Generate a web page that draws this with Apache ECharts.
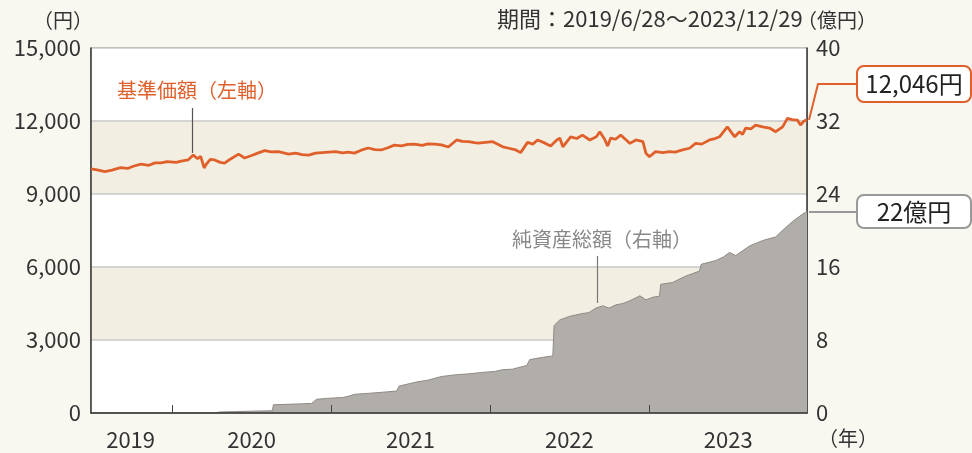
<!DOCTYPE html>
<html><head><meta charset="utf-8">
<script src="https://cdn.jsdelivr.net/npm/echarts@6/dist/echarts.min.js"></script>
<style>html,body{margin:0;padding:0;background:#f8f7f0;}#c{width:972px;height:453px;}</style>
</head><body><div id="c"></div>
<script>
const FONT = "'Noto Sans CJK JP','Noto Sans',sans-serif";
const startDate = '2019-06-28';
const endDate = '2023-12-29';
const yearTicks = ['2020-01-01','2021-01-01','2022-01-01','2023-01-01'];
const yearLabelPos = ['2019-09-27','2020-07-01','2021-07-01','2022-07-01','2023-07-01'];
const leftTicks = [0,3000,6000,9000,12000,15000];
const rightTicks = [0,8,16,24,32,40];

const navDates = ['2019-06-28','2019-07-12','2019-07-30','2019-08-15','2019-09-04','2019-09-20','2019-10-05','2019-10-21','2019-11-08','2019-11-22','2019-12-06','2019-12-20','2020-01-10','2020-01-21','2020-02-06','2020-02-18','2020-02-28','2020-03-06','2020-03-14','2020-03-20','2020-03-28','2020-04-07','2020-04-20','2020-04-30','2020-05-12','2020-06-01','2020-06-15','2020-07-01','2020-07-15','2020-07-31','2020-08-15','2020-09-01','2020-09-24','2020-10-10','2020-10-25','2020-11-09','2020-11-25','2020-12-10','2020-12-25','2021-01-10','2021-01-26','2021-02-08','2021-02-22','2021-03-10','2021-03-26','2021-04-10','2021-04-25','2021-05-10','2021-05-25','2021-06-10','2021-06-25','2021-07-10','2021-07-28','2021-08-10','2021-08-25','2021-09-10','2021-09-26','2021-10-15','2021-10-28','2021-11-11','2021-11-25','2021-12-04','2021-12-20','2022-01-06','2022-01-29','2022-02-12','2022-02-28','2022-03-11','2022-03-27','2022-04-08','2022-04-19','2022-05-05','2022-05-19','2022-06-01','2022-06-09','2022-06-16','2022-07-04','2022-07-18','2022-07-31','2022-08-17','2022-09-01','2022-09-09','2022-09-20','2022-09-27','2022-10-04','2022-10-15','2022-10-27','2022-11-10','2022-11-17','2022-12-01','2022-12-17','2022-12-24','2023-01-01','2023-01-15','2023-02-01','2023-02-16','2023-03-01','2023-03-18','2023-04-03','2023-04-17','2023-05-01','2023-05-19','2023-06-01','2023-06-11','2023-06-29','2023-07-16','2023-07-27','2023-08-03','2023-08-10','2023-08-22','2023-09-02','2023-09-18','2023-10-04','2023-10-18','2023-11-03','2023-11-14','2023-11-25','2023-12-07','2023-12-14','2023-12-22','2023-12-29'];
const navValues = [10030,9990,9920,9980,10080,10050,10150,10230,10180,10280,10280,10330,10300,10350,10400,10600,10450,10550,10070,10250,10420,10400,10300,10270,10420,10640,10480,10580,10680,10780,10730,10740,10640,10680,10620,10600,10680,10700,10720,10740,10690,10720,10680,10800,10890,10820,10810,10900,11010,10980,11040,11050,11000,11060,11050,11020,10930,11220,11160,11150,11110,11090,11120,11150,10940,10880,10810,10700,11120,11050,11220,11100,10970,11200,11300,10940,11350,11280,11420,11220,11350,11560,11250,10970,11300,11250,11420,11200,11080,11220,11150,10670,10530,10740,10700,10740,10720,10810,10880,11080,11050,11220,11280,11350,11760,11350,11560,11450,11710,11680,11830,11760,11710,11560,11760,12110,12060,12040,11830,12000,12046];

const aumDates = ['2019-06-28','2020-04-10','2020-04-16','2020-05-20','2020-07-01','2020-08-18','2020-08-20','2020-09-20','2020-10-20','2020-11-16','2020-11-27','2020-12-20','2021-01-26','2021-02-10','2021-02-22','2021-03-25','2021-05-04','2021-05-30','2021-06-05','2021-07-15','2021-08-10','2021-09-10','2021-10-15','2021-11-15','2021-12-13','2022-01-10','2022-01-29','2022-02-20','2022-03-16','2022-03-25','2022-04-01','2022-05-01','2022-05-24','2022-05-27','2022-06-09','2022-07-02','2022-07-31','2022-08-15','2022-08-31','2022-09-16','2022-09-30','2022-10-16','2022-11-01','2022-11-17','2022-12-10','2022-12-24','2023-01-10','2023-01-24','2023-01-27','2023-02-23','2023-03-25','2023-04-26','2023-04-30','2023-06-02','2023-06-20','2023-07-04','2023-07-18','2023-08-19','2023-09-18','2023-10-18','2023-11-07','2023-11-26','2023-12-19','2023-12-29'];
const aumValues = [0,0,0.1,0.15,0.2,0.25,0.9,0.95,1.0,1.05,1.5,1.6,1.7,1.85,2.05,2.15,2.3,2.4,2.95,3.4,3.6,4.0,4.2,4.3,4.45,4.55,4.75,4.8,5.1,5.2,5.85,6.1,6.25,9.6,10.2,10.6,10.9,11.0,11.5,11.75,11.5,11.85,12.0,12.3,12.85,12.4,12.7,12.8,14.1,14.3,15.0,15.55,16.3,16.7,17.1,17.6,17.25,18.3,18.9,19.3,20.2,21.0,21.8,22.1];

const navLabel = '12,046円';
const aumLabel = '22億円';

const ts = d => new Date(d + 'T00:00:00Z').getTime();
const chart = echarts.init(document.getElementById('c'));
const txt = '#333';
chart.setOption({
  backgroundColor: '#f8f7f0',
  animation: false,
  textStyle: {fontFamily: FONT},
  grid: {left: 91, right: 165, top: 48, bottom: 40, show: true, backgroundColor: '#ffffff', borderColor: '#666', borderWidth: 1},
  xAxis: {
    type: 'value', min: ts(startDate), max: ts(endDate), scale: true, z: 10,
    axisLine: {show: true, onZero: false, lineStyle: {color: '#333', width: 1.5}},
    axisTick: {show: true, inside: true, length: 8, lineStyle: {color: '#444'}, customValues: yearTicks.map(ts)},
    axisLabel: {color: txt, fontSize: 22, fontFamily: FONT, margin: 16, customValues: yearLabelPos.map(ts),
      formatter: v => String(new Date(v).getUTCFullYear())},
    splitLine: {show: false}
  },
  yAxis: [{
    type: 'value', min: 0, max: 15000, interval: 3000, position: 'left',
    axisLine: {show: true, lineStyle: {color: '#333', width: 1.5}},
    axisTick: {show: false},
    axisLabel: {color: txt, fontSize: 22, fontFamily: FONT, margin: 10, formatter: v => v.toLocaleString('en-US')},
    splitLine: {show: true, lineStyle: {color: '#c9c9c9', width: 1.5}},
    splitArea: {show: true, areaStyle: {color: ['#ffffff', '#f2efe2']}}
  }, {
    type: 'value', min: 0, max: 40, interval: 8, position: 'right',
    axisLine: {show: true, lineStyle: {color: '#333', width: 1.5}},
    axisTick: {show: false},
    axisLabel: {color: txt, fontSize: 22, fontFamily: FONT, margin: 9},
    splitLine: {show: false}
  }],
  series: [{
    type: 'line', yAxisIndex: 1, showSymbol: false, z: 2,
    data: aumDates.map((d, i) => [ts(d), aumValues[i]]),
    lineStyle: {color: '#8e8a85', width: 1},
    areaStyle: {color: '#b1ada8', opacity: 1}
  }, {
    type: 'line', yAxisIndex: 0, showSymbol: false, z: 3,
    data: navDates.map((d, i) => [ts(d), navValues[i]]),
    lineStyle: {color: '#e0602b', width: 2.8}
  }]
});

const endNav = chart.convertToPixel({xAxisIndex: 0, yAxisIndex: 0}, [ts(endDate), navValues[navValues.length - 1]]);
const endAum = chart.convertToPixel({xAxisIndex: 0, yAxisIndex: 1}, [ts(endDate), aumValues[aumValues.length - 1]]);

chart.setOption({graphic: [
  {type: 'text', left: 33, top: 10, style: {text: '（円）', fill: txt, font: '20px ' + FONT}},
  {type: 'text', left: 497, top: 8, style: {text: '期間：2019/6/28～2023/12/29', fill: txt, font: '22px ' + FONT}},
  {type: 'text', left: 797, top: 10, style: {text: '（億円）', fill: txt, font: '20px ' + FONT}},
  {type: 'text', left: 818, top: 428, style: {text: '（年）', fill: txt, font: '20px ' + FONT}},
  {type: 'text', left: 117, top: 80, style: {text: '基準価額（左軸）', fill: '#e0602b', font: '20px ' + FONT}},
  {type: 'line', shape: {x1: 192.5, y1: 108, x2: 192.5, y2: 153}, style: {stroke: '#555', lineWidth: 1.2}},
  {type: 'text', left: 512, top: 229, style: {text: '純資産総額（右軸）', fill: '#888', font: '20px ' + FONT}},
  {type: 'line', shape: {x1: 597.5, y1: 256, x2: 597.5, y2: 303}, style: {stroke: '#777', lineWidth: 1.2}},
  {type: 'polyline', shape: {points: [[endNav[0] + 2, endNav[1]], [818, 84], [857, 84]]}, style: {stroke: '#e0602b', lineWidth: 2, fill: null}},
  {type: 'rect', shape: {x: 857, y: 66, width: 114, height: 36, r: 7}, style: {fill: '#fff', stroke: '#e0602b', lineWidth: 2}},
  {type: 'text', x: 914, y: 84, style: {text: navLabel, fill: '#222', font: '24px ' + FONT, align: 'center', verticalAlign: 'middle'}},
  {type: 'line', shape: {x1: endAum[0] + 2, y1: 212, x2: 857, y2: 212}, style: {stroke: '#999', lineWidth: 2}},
  {type: 'rect', shape: {x: 857, y: 195, width: 114, height: 33, r: 7}, style: {fill: '#fff', stroke: '#999', lineWidth: 2}},
  {type: 'text', x: 914, y: 211.5, style: {text: aumLabel, fill: '#222', font: '24px ' + FONT, align: 'center', verticalAlign: 'middle'}}
]});
</script></body></html>
